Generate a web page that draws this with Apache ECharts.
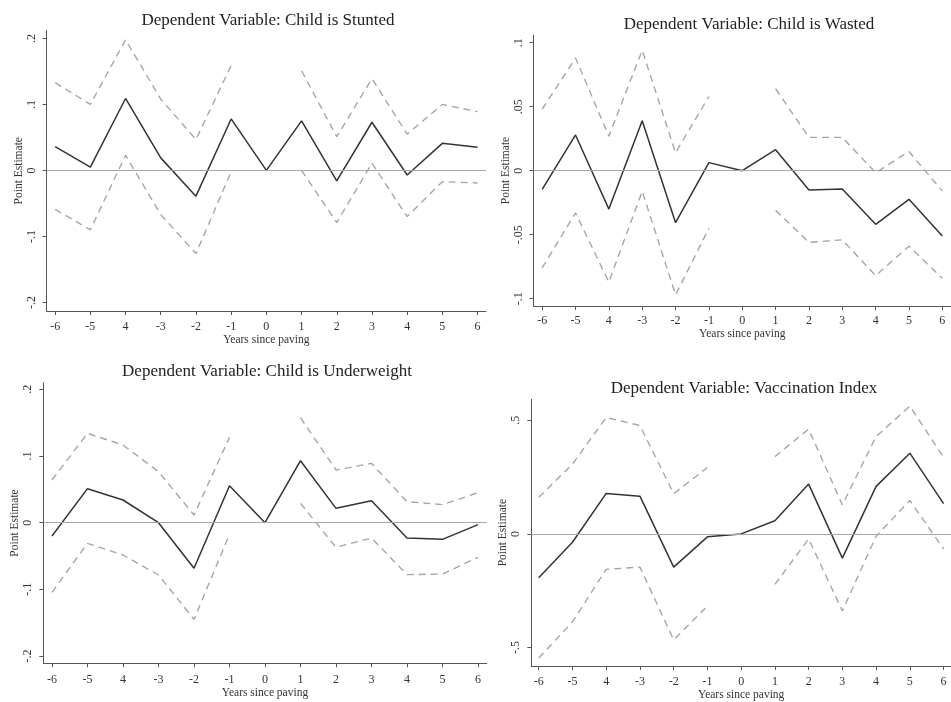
<!DOCTYPE html>
<html>
<head>
<meta charset="utf-8">
<script src="https://cdn.jsdelivr.net/npm/echarts@6/dist/echarts.min.js"></script>
<style>
  html, body { margin: 0; padding: 0; background: #fff; }
  #chart { width: 951px; height: 702px; }
</style>
</head>
<body>
<div id="chart"></div>
<script>
// event-study estimates
const years = [-6, -5, -4, -3, -2, -1, 0, 1, 2, 3, 4, 5, 6];
const xTickLabels = ['-6', '-5', '4', '-3', '-2', '-1', '0', '1', '2', '3', '4', '5', '6'];

const stuntedEst = [0.036, 0.005, 0.109, 0.019, -0.039, 0.078, 0, 0.075, -0.016, 0.073, -0.007, 0.041, 0.035];
const stuntedUpper = [0.133, 0.100, 0.198, 0.108, 0.047, 0.159, null, 0.151, 0.051, 0.139, 0.055, 0.100, 0.089];
const stuntedLower = [-0.059, -0.090, 0.023, -0.067, -0.126, -0.002, null, 0.000, -0.079, 0.011, -0.070, -0.017, -0.019];

const wastedEst = [-0.0146, 0.0279, -0.030, 0.039, -0.0406, 0.0063, 0, 0.0164, -0.0151, -0.0143, -0.0419, -0.0224, -0.051];
const wastedUpper = [0.048, 0.088, 0.027, 0.094, 0.014, 0.058, null, 0.064, 0.026, 0.026, -0.0016, 0.015, -0.016];
const wastedLower = [-0.076, -0.033, -0.087, -0.016, -0.097, -0.045, null, -0.031, -0.056, -0.054, -0.082, -0.059, -0.084];

const underEst = [-0.020, 0.051, 0.034, 0.000, -0.0685, 0.0555, 0, 0.093, 0.0215, 0.033, -0.023, -0.025, -0.003];
const underUpper = [0.064, 0.134, 0.1165, 0.0765, 0.0115, 0.128, null, 0.1575, 0.079, 0.089, 0.0315, 0.027, 0.045];
const underLower = [-0.1045, -0.031, -0.0485, -0.0785, -0.145, -0.0175, null, 0.029, -0.037, -0.023, -0.078, -0.077, -0.052];

const vaccEst = [-0.193, -0.0365, 0.178, 0.166, -0.146, -0.013, 0, 0.058, 0.219, -0.1066, 0.209, 0.355, 0.133];
const vaccUpper = [0.161, 0.307, 0.512, 0.477, 0.177, 0.292, null, 0.340, 0.461, 0.128, 0.428, 0.562, 0.337];
const vaccLower = [-0.546, -0.387, -0.156, -0.146, -0.466, -0.317, null, -0.222, -0.022, -0.339, -0.010, 0.147, -0.066];

const titles = [
  'Dependent Variable: Child is Stunted',
  'Dependent Variable: Child is Wasted',
  'Dependent Variable: Child is Underweight',
  'Dependent Variable: Vaccination Index'
];
const yTicks = [
  [-0.2, -0.1, 0, 0.1, 0.2],
  [-0.1, -0.05, 0, 0.05, 0.1],
  [-0.2, -0.1, 0, 0.1, 0.2],
  [-0.5, 0, 0.5]
];
const yTickLabels = [
  ['-.2', '-.1', '0', '.1', '.2'],
  ['-.1', '-.05', '0', '.05', '.1'],
  ['-.2', '-.1', '0', '.1', '.2'],
  ['-.5', '0', '.5']
];
const panelData = [
  [stuntedEst, stuntedUpper, stuntedLower],
  [wastedEst, wastedUpper, wastedLower],
  [underEst, underUpper, underLower],
  [vaccEst, vaccUpper, vaccLower]
];

const FONT = '"Liberation Serif", "DejaVu Serif", serif';
const AXIS = '#555';

// panel layout (px) and axis ranges
const grids = [
  { left: 46.7, right: 465, top: 30.5, bottom: 391 },
  { left: 533.5, right: -10, top: 35, bottom: 396 },
  { left: 43.3, right: 464.3, top: 382.7, bottom: 38.7 },
  { left: 531.3, right: -1, top: 399.3, bottom: 35.3 }
];
const xRanges = [[-6.24, 6.24], [-6.26, 6.26], [-6.245, 6.245], [-6.22, 6.22]];
const yRanges = [[-0.213, 0.212], [-0.1057, 0.106], [-0.211, 0.21], [-0.581, 0.592]];
const titlePos = [[263, 7], [744, 11], [262, 358], [739, 375]];
const xLabelMargin = [10, 9, 11, 10];

function pairs(vals) {
  return years.map((y, i) => [y, vals[i]]);
}

const chart = echarts.init(document.getElementById('chart'));

const option = {
  animation: false,
  backgroundColor: '#fff',
  title: titles.map((t, i) => ({
    text: t,
    left: titlePos[i][0],
    top: titlePos[i][1],
    textAlign: 'center',
    textStyle: { fontFamily: FONT, fontSize: 17, fontWeight: 'normal', color: '#222' }
  })),
  grid: grids,
  xAxis: grids.map((g, i) => ({
    type: 'value',
    gridIndex: i,
    min: xRanges[i][0],
    max: xRanges[i][1],
    name: 'Years since paving',
    nameLocation: 'middle',
    nameGap: xLabelMargin[i] + 13,
    nameTextStyle: { fontFamily: FONT, fontSize: 11.5, color: '#333' },
    axisLine: { show: true, onZero: false, lineStyle: { color: AXIS, width: 1 } },
    axisTick: { show: true, length: 4, customValues: years, lineStyle: { color: AXIS } },
    axisLabel: {
      customValues: years,
      margin: xLabelMargin[i],
      fontFamily: FONT,
      fontSize: 12,
      color: '#333',
      formatter: v => xTickLabels[years.indexOf(v)]
    },
    splitLine: { show: false }
  })),
  yAxis: grids.map((g, i) => ({
    type: 'value',
    gridIndex: i,
    min: yRanges[i][0],
    max: yRanges[i][1],
    name: 'Point Estimate',
    nameLocation: 'middle',
    nameGap: 22,
    nameTextStyle: { fontFamily: FONT, fontSize: 11.5, color: '#333' },
    axisLine: { show: true, onZero: false, lineStyle: { color: AXIS, width: 1 } },
    axisTick: { show: true, length: 4, customValues: yTicks[i], lineStyle: { color: AXIS } },
    axisLabel: {
      customValues: yTicks[i],
      rotate: 90,
      margin: 9,
      fontFamily: FONT,
      fontSize: 12,
      color: '#333',
      formatter: v => yTickLabels[i][yTicks[i].indexOf(v)]
    },
    splitLine: { show: false }
  })),
  series: []
};

panelData.forEach((d, i) => {
  option.series.push({
    type: 'line',
    xAxisIndex: i,
    yAxisIndex: i,
    data: pairs(d[0]),
    showSymbol: false,
    lineStyle: { color: '#333', width: 1.5 },
    z: 3,
    markLine: {
      silent: true,
      symbol: 'none',
      label: { show: false },
      lineStyle: { color: '#a8a8a8', type: 'solid', width: 1 },
      data: [{ yAxis: 0 }]
    }
  });
  [d[1], d[2]].forEach(vals => {
    option.series.push({
      type: 'line',
      xAxisIndex: i,
      yAxisIndex: i,
      data: pairs(vals),
      showSymbol: false,
      connectNulls: false,
      lineStyle: { color: '#a6a6a6', width: 1.4, type: [7, 5] },
      z: 2
    });
  });
});

chart.setOption(option);
</script>
</body>
</html>
